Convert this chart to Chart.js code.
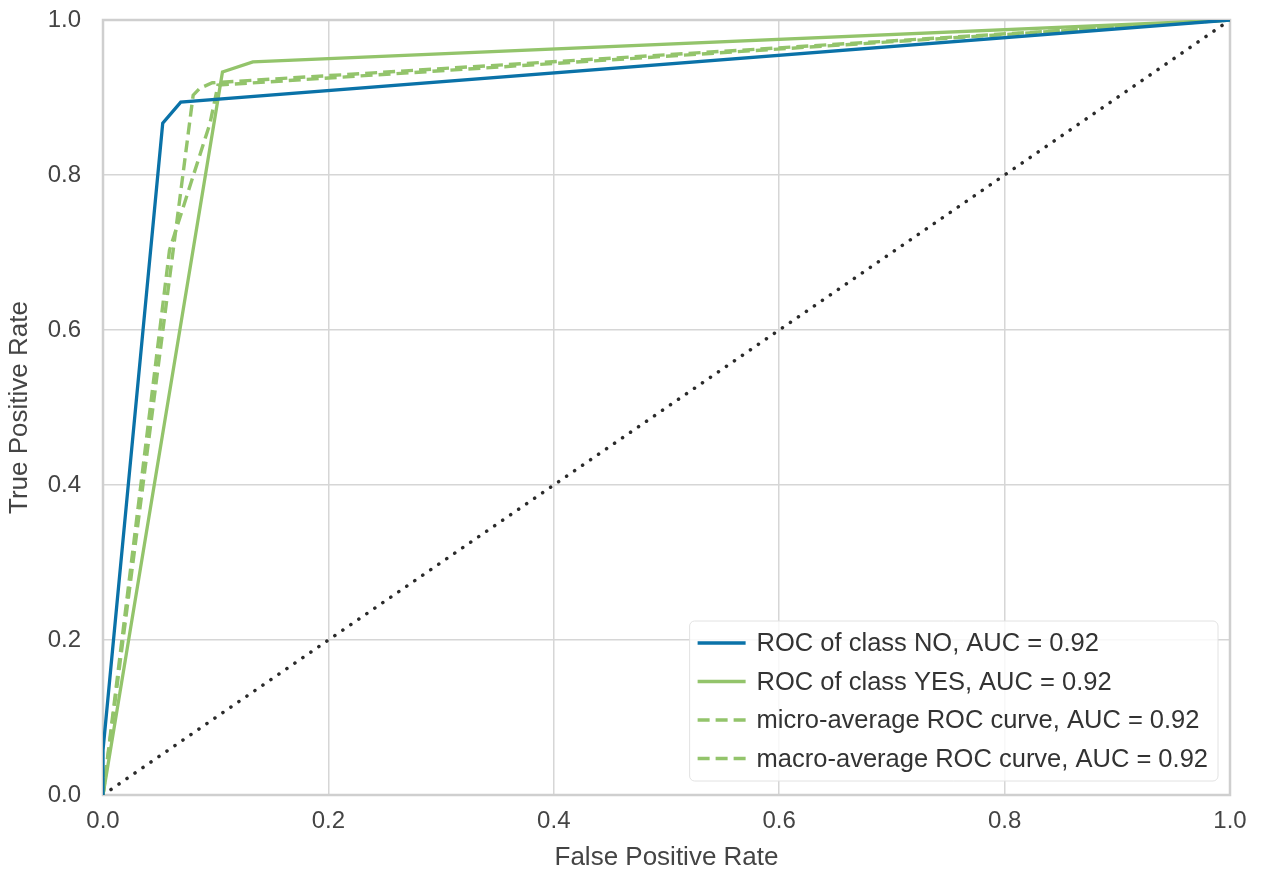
<!DOCTYPE html>
<html>
<head>
<meta charset="utf-8">
<script src="https://cdn.jsdelivr.net/npm/chart.js@4.4.1/dist/chart.umd.min.js"></script>
<style>
  html, body { margin: 0; padding: 0; background: #fff; }
  #wrap { width: 1267px; height: 873px; }
</style>
</head>
<body>
<div id="wrap"><canvas id="roc" width="1267" height="873"></canvas></div>
<script>
// ROC curve points
const fprNo = [0, 0, 0.053, 0.069, 1];
const tprNo = [0, 0.058, 0.867, 0.894, 1];
const fprYes = [0, 0.106, 0.133, 1];
const tprYes = [0, 0.933, 0.946, 1];
const fprMicro = [0, 0.080, 0.086, 0.097, 1];
const tprMicro = [0, 0.903, 0.912, 0.919, 1];
const fprMacro = [0, 0.059, 0.095, 0.102, 1];
const tprMacro = [0, 0.703, 0.867, 0.916, 1];
const diagonal = [0, 1];

const seriesLabels = [
  "ROC of class NO, AUC = 0.92",
  "ROC of class YES, AUC = 0.92",
  "micro-average ROC curve, AUC = 0.92",
  "macro-average ROC curve, AUC = 0.92"
];
const axisTicks = [0, 0.2, 0.4, 0.6, 0.8, 1.0];

const BLUE = "#0a72a8";
const GREEN = "#93c46b";
const FONT = "'Liberation Sans', Arial, sans-serif";

const pts = (xs, ys) => xs.map((x, i) => ({ x, y: ys[i] }));

// frame around the plot area
const framePlugin = {
  id: "frame",
  beforeDatasetsDraw(chart) {
    const { ctx, chartArea: a } = chart;
    ctx.save();
    ctx.strokeStyle = "#cfcfcf";
    ctx.lineWidth = 2.5;
    ctx.strokeRect(a.left, a.top, a.right - a.left, a.bottom - a.top);
    ctx.restore();
  }
};

// legend drawn inside the lower right of the plot
const insideLegend = {
  id: "insideLegend",
  afterDatasetsDraw(chart) {
    const { ctx, chartArea: a } = chart;
    const sets = chart.data.datasets.filter(d => d.label);
    ctx.save();
    ctx.font = "25.5px " + FONT;
    const textW = Math.max(...sets.map(d => ctx.measureText(d.label).width));
    const rowH = 38.5;
    const w = 67 + textW + 10;
    const h = sets.length * rowH + 6;
    const x = a.right - 12 - w;
    const y = a.bottom - 14 - h;
    ctx.beginPath();
    ctx.roundRect(x, y, w, h, 5);
    ctx.fillStyle = "rgba(255,255,255,0.82)";
    ctx.fill();
    ctx.strokeStyle = "#e2e2e2";
    ctx.lineWidth = 1;
    ctx.stroke();
    sets.forEach((d, i) => {
      const cy = y + 22 + i * rowH;
      ctx.beginPath();
      ctx.setLineDash(d.borderDash || []);
      ctx.strokeStyle = d.borderColor;
      ctx.lineWidth = d.borderWidth;
      ctx.moveTo(x + 8, cy);
      ctx.lineTo(x + 56, cy);
      ctx.stroke();
      ctx.setLineDash([]);
      ctx.fillStyle = "#333";
      ctx.textBaseline = "middle";
      ctx.fillText(d.label, x + 67, cy + 1);
    });
    ctx.restore();
  }
};

const ctx = document.getElementById("roc").getContext("2d");
new Chart(ctx, {
  type: "line",
  data: {
    datasets: [
      { label: seriesLabels[0], data: pts(fprNo, tprNo), borderColor: BLUE, borderWidth: 3.3 },
      { label: seriesLabels[1], data: pts(fprYes, tprYes), borderColor: GREEN, borderWidth: 3.3 },
      { label: seriesLabels[2], data: pts(fprMicro, tprMicro), borderColor: GREEN, borderWidth: 3.4, borderDash: [12, 6] },
      { label: seriesLabels[3], data: pts(fprMacro, tprMacro), borderColor: GREEN, borderWidth: 3.4, borderDash: [12, 6] },
      { label: "", data: pts(diagonal, diagonal), borderColor: "#2a2a2a", borderWidth: 3.5,
        borderDash: [0.1, 9.6], borderCapStyle: "round" }
    ]
  },
  options: {
    responsive: false,
    animation: false,
    layout: { padding: { top: 20, right: 37, left: 0, bottom: 0 } },
    elements: { point: { radius: 0 }, line: { tension: 0 } },
    plugins: { legend: { display: false }, tooltip: { enabled: false } },
    scales: {
      x: {
        type: "linear",
        min: 0, max: 1,
        afterFit(s) { s.height = 78; },
        afterBuildTicks(s) { s.ticks = axisTicks.map(v => ({ value: v })); },
        grid: { color: "#d6d6d6", lineWidth: 1.5, drawTicks: false },
        border: { display: false },
        ticks: { padding: 12, color: "#444", font: { family: FONT, size: 24 }, callback: v => v.toFixed(1) },
        title: { display: true, text: "False Positive Rate", color: "#444", font: { family: FONT, size: 26 }, padding: { top: 0, bottom: 0 } }
      },
      y: {
        type: "linear",
        min: 0, max: 1,
        afterFit(s) { s.width = 103; s.paddingTop = 0; s.paddingBottom = 0; },
        afterBuildTicks(s) { s.ticks = axisTicks.map(v => ({ value: v })); },
        grid: { color: "#d6d6d6", lineWidth: 1.5, drawTicks: false },
        border: { display: false },
        ticks: { padding: 22, color: "#444", font: { family: FONT, size: 24 }, callback: v => v.toFixed(1) },
        title: { display: true, text: "True Positive Rate", color: "#444", font: { family: FONT, size: 26 }, padding: { top: 4, bottom: 2 } }
      }
    }
  },
  plugins: [framePlugin, insideLegend]
});
</script>
</body>
</html>
